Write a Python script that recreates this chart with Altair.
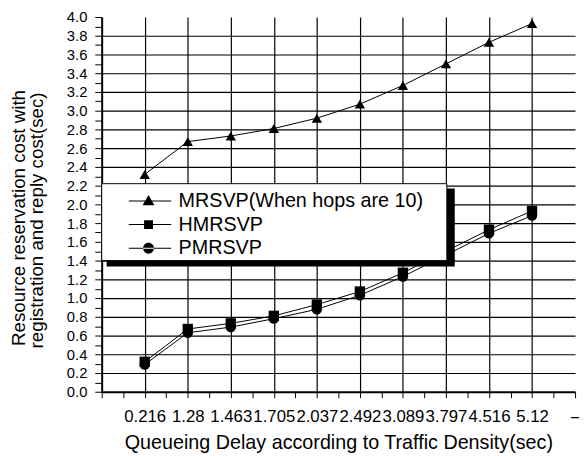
import altair as alt
import pandas as pd

# ---- data ----
delays = ["0.216", "1.28", "1.463", "1.705", "2.037", "2.492", "3.089", "3.797", "4.516", "5.12"]
series = ["MRSVP(When hops are 10)", "HMRSVP", "PMRSVP"]
mrsvp = [2.32, 2.67, 2.73, 2.81, 2.92, 3.07, 3.27, 3.50, 3.73, 3.93]
hmrsvp = [0.32, 0.67, 0.73, 0.81, 0.93, 1.07, 1.27, 1.50, 1.73, 1.93]
pmrsvp = [0.29, 0.63, 0.69, 0.78, 0.88, 1.03, 1.23, 1.46, 1.69, 1.88]
tick_labels = [""] + delays + ["\u2013"]
y_title_lines = ["Resource reservation cost with", "registration and reply cost(sec)"]
x_title = "Queueing Delay according to Traffic Density(sec)"
y_ticks = [round(i * 0.1, 1) for i in range(41)]
x_ticks = [i * 0.5 for i in range(23)]

rows = []
for name, vals in zip(series, [mrsvp, hmrsvp, pmrsvp]):
    for i, v in enumerate(vals):
        rows.append({"pos": i + 1, "delay": delays[i], "series": name, "value": v})
df = pd.DataFrame(rows)

FONT = "Liberation Sans"
labels_js = "[" + ",".join("'" + l + "'" for l in tick_labels) + "]"

x_axis = alt.Axis(
    values=x_ticks,
    labelExpr="datum.value % 1 === 0 ? " + labels_js + "[round(datum.value)] : ''",
    gridOpacity={"condition": {"test": "datum.value % 1 === 0 && datum.value > 0.1 && datum.value < 10.9", "value": 1}, "value": 0},
    title=x_title,
    labelOverlap=False, labelFlush=False, labelBound=False,
    labelFontSize=17, labelPadding=11, tickSize=6,
    titleFontSize=20, titlePadding=9,
)
y_axis = alt.Axis(
    values=y_ticks,
    labelExpr="abs(datum.value*5 - round(datum.value*5)) < 1e-6 ? format(datum.value, '.1f') : ''",
    gridOpacity={"condition": {"test": "abs(datum.value*5 - round(datum.value*5)) < 1e-6 && datum.value > 0.05 && datum.value < 3.95", "value": 1}, "value": 0},
    title=y_title_lines[1],
    labelOverlap=False, labelFlush=False, labelBound=False,
    labelFontSize=15, labelPadding=8, tickSize=7,
    titleFontSize=19, titleX=-75, titleY=76,
    titleBaseline="top", titleAlign="right", titleAngle=-90,
)

xenc = alt.X("pos:Q", scale=alt.Scale(domain=[0, 11], nice=False, zero=False), axis=x_axis)
yenc = alt.Y("value:Q", scale=alt.Scale(domain=[0, 4], nice=False), axis=y_axis)

base = alt.Chart(df)

lines = base.mark_line(color="black", strokeWidth=1).encode(
    x=xenc, y=yenc, detail="series:N", order="pos:Q"
)
points = base.mark_point(filled=True, color="black", size=110, opacity=1).encode(
    x=xenc, y=yenc,
    shape=alt.Shape("series:N", scale=alt.Scale(domain=series, range=["triangle-up", "square", "circle"]), legend=None),
)

# legend symbols: thin filled bar (line segment) + marker
legend_paths = [
    "M-1.3,-0.05H3.0V0.05H-1.3ZM0.7,-0.6L1.3,0.45L0.1,0.45Z",
    "M-1.3,-0.05H3.0V0.05H-1.3ZM0.25,-0.45H1.15V0.45H0.25Z",
    "M-1.3,-0.05H3.0V0.05H-1.3ZM0.15,0A0.55,0.55 0 1,0 1.25,0A0.55,0.55 0 1,0 0.15,0Z",
]
legend_layer = base.mark_point(filled=True, color="black", opacity=0).encode(
    x=xenc, y=yenc,
    shape=alt.Shape(
        "series:N",
        scale=alt.Scale(domain=series, range=legend_paths),
        legend=alt.Legend(
            orient="none", legendX=30, legendY=176, padding=0, title=None,
            symbolSize=400, symbolFillColor="black", symbolStrokeColor="black",
            symbolStrokeWidth=0.5, symbolOpacity=1,
            labelFontSize=20, labelFont=FONT, labelOffset=27, labelLimit=400,
            rowPadding=3,
        ),
    ),
)

one = alt.Data(values=[{"k": 1}])
shadow = alt.Chart(one).mark_rect(color="black").encode(
    x=alt.value(5), x2=alt.value(358), y=alt.value(174), y2=alt.value(253)
)
box = alt.Chart(one).mark_rect(fill="white", stroke="black", strokeWidth=1).encode(
    x=alt.value(0), x2=alt.value(350), y=alt.value(169), y2=alt.value(247)
)
# first line of the two-line y-axis title
ytitle1 = alt.Chart(one).mark_text(
    font=FONT, fontSize=19, angle=270, align="right", baseline="top", color="black"
).encode(x=alt.value(-93), y=alt.value(74), text=alt.value(y_title_lines[0]))

chart = (
    alt.layer(lines, points, legend_layer, shadow, box, ytitle1)
    .resolve_scale(shape="independent")
    .properties(
        width=480, height=380, autosize="none",
        padding={"left": 95, "top": 6, "right": 4, "bottom": 62},
        background="white",
    )
    .configure_view(stroke=None)
    .configure_axis(
        labelFont=FONT, titleFont=FONT, labelColor="black", titleColor="black",
        titleFontWeight="normal", domainColor="black", domainWidth=2,
        tickColor="black", tickWidth=1, gridColor="black", gridWidth=1.2,
    )
)

chart.save("out.html", embed_options={"renderer": "svg", "actions": False})
